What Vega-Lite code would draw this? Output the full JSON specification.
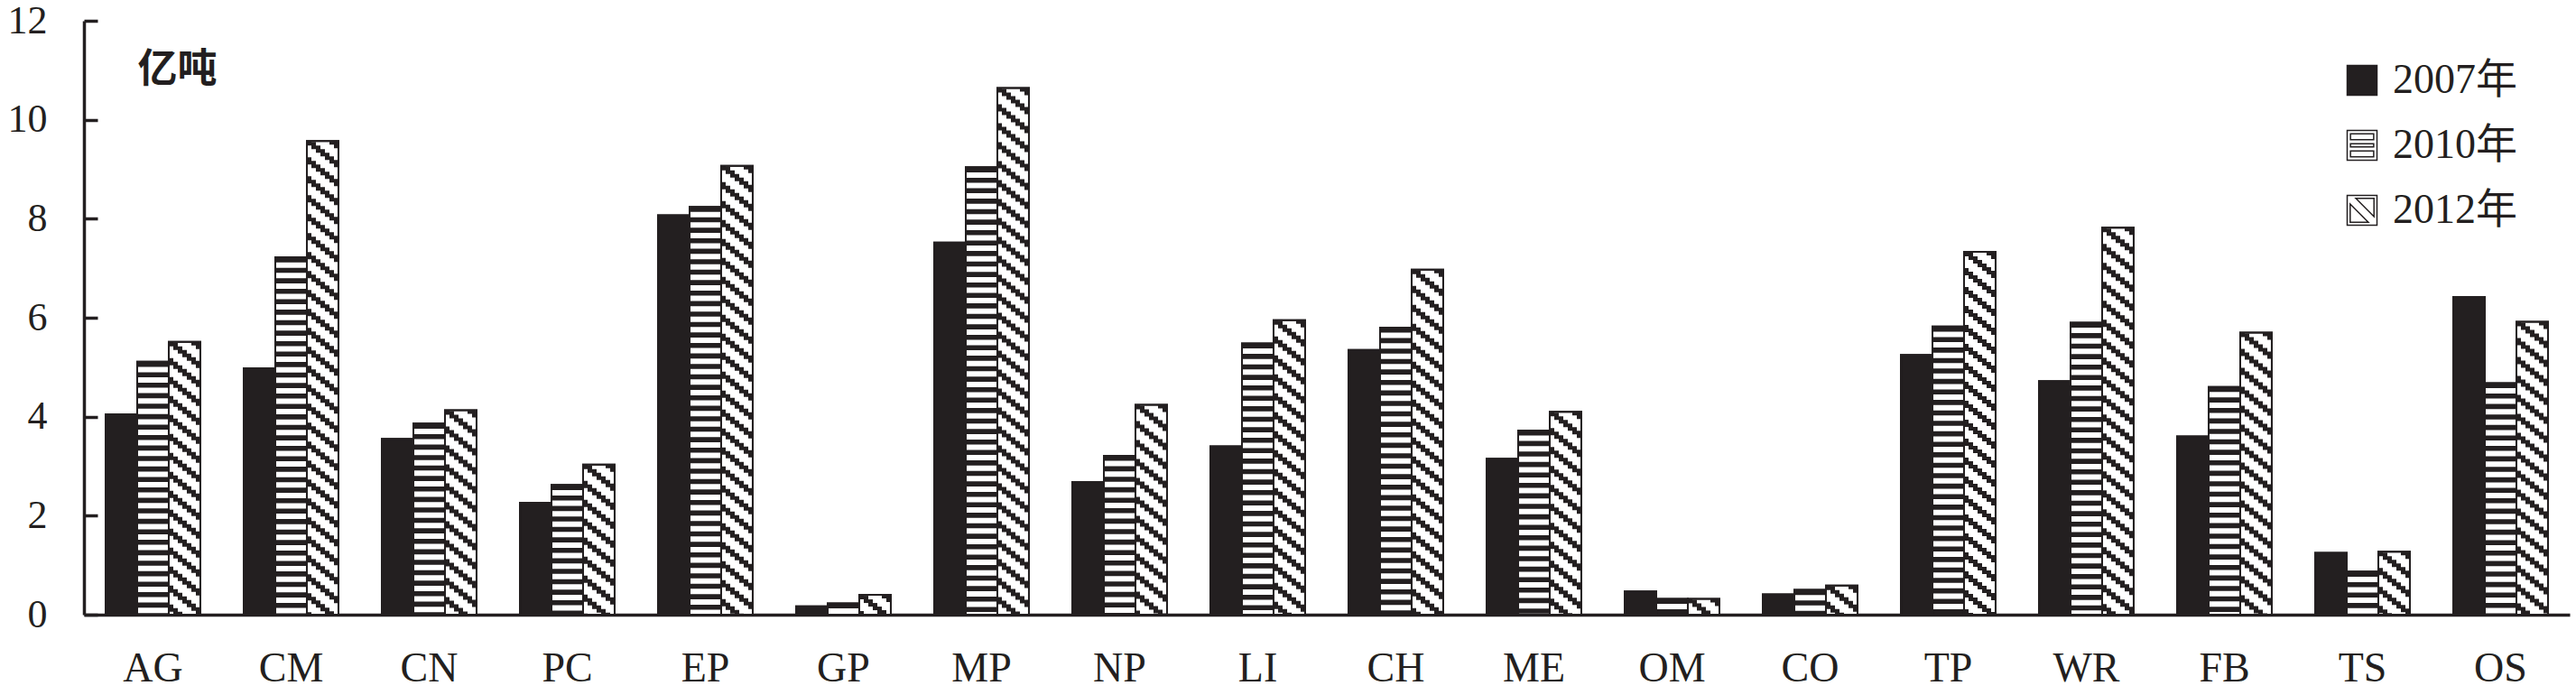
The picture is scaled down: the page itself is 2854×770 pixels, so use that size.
{
  "$schema": "https://vega.github.io/schema/vega-lite/v6.json",
  "autosize": {"type": "none"},
  "padding": {"left": 93, "top": 23, "right": 7, "bottom": 89},
  "width": 2754,
  "height": 658,
  "background": "white",
  "config": {"view": {"stroke": null}, "legend": {"labelFont": "Liberation Serif, Noto Sans CJK SC", "labelFontSize": 46, "labelColor": "#231f20"}},
  "data": {"values": [
    {"sector": "AG", "year": "2007年", "value": 4.05}, {"sector": "AG", "year": "2010年", "value": 5.11}, {"sector": "AG", "year": "2012年", "value": 5.51},
    {"sector": "CM", "year": "2007年", "value": 4.98}, {"sector": "CM", "year": "2010年", "value": 7.22}, {"sector": "CM", "year": "2012年", "value": 9.57},
    {"sector": "CN", "year": "2007年", "value": 3.55}, {"sector": "CN", "year": "2010年", "value": 3.86}, {"sector": "CN", "year": "2012年", "value": 4.13},
    {"sector": "PC", "year": "2007年", "value": 2.26}, {"sector": "PC", "year": "2010年", "value": 2.62}, {"sector": "PC", "year": "2012年", "value": 3.03},
    {"sector": "EP", "year": "2007年", "value": 8.07}, {"sector": "EP", "year": "2010年", "value": 8.24}, {"sector": "EP", "year": "2012年", "value": 9.07},
    {"sector": "GP", "year": "2007年", "value": 0.17}, {"sector": "GP", "year": "2010年", "value": 0.23}, {"sector": "GP", "year": "2012年", "value": 0.40},
    {"sector": "MP", "year": "2007年", "value": 7.52}, {"sector": "MP", "year": "2010年", "value": 9.04}, {"sector": "MP", "year": "2012年", "value": 10.64},
    {"sector": "NP", "year": "2007年", "value": 2.68}, {"sector": "NP", "year": "2010年", "value": 3.21}, {"sector": "NP", "year": "2012年", "value": 4.24},
    {"sector": "LI", "year": "2007年", "value": 3.40}, {"sector": "LI", "year": "2010年", "value": 5.48}, {"sector": "LI", "year": "2012年", "value": 5.95},
    {"sector": "CH", "year": "2007年", "value": 5.35}, {"sector": "CH", "year": "2010年", "value": 5.80}, {"sector": "CH", "year": "2012年", "value": 6.97},
    {"sector": "ME", "year": "2007年", "value": 3.15}, {"sector": "ME", "year": "2010年", "value": 3.72}, {"sector": "ME", "year": "2012年", "value": 4.10},
    {"sector": "OM", "year": "2007年", "value": 0.47}, {"sector": "OM", "year": "2010年", "value": 0.32}, {"sector": "OM", "year": "2012年", "value": 0.32},
    {"sector": "CO", "year": "2007年", "value": 0.41}, {"sector": "CO", "year": "2010年", "value": 0.50}, {"sector": "CO", "year": "2012年", "value": 0.59},
    {"sector": "TP", "year": "2007年", "value": 5.25}, {"sector": "TP", "year": "2010年", "value": 5.82}, {"sector": "TP", "year": "2012年", "value": 7.33},
    {"sector": "WR", "year": "2007年", "value": 4.72}, {"sector": "WR", "year": "2010年", "value": 5.90}, {"sector": "WR", "year": "2012年", "value": 7.82},
    {"sector": "FB", "year": "2007年", "value": 3.60}, {"sector": "FB", "year": "2010年", "value": 4.60}, {"sector": "FB", "year": "2012年", "value": 5.70},
    {"sector": "TS", "year": "2007年", "value": 1.25}, {"sector": "TS", "year": "2010年", "value": 0.87}, {"sector": "TS", "year": "2012年", "value": 1.27},
    {"sector": "OS", "year": "2007年", "value": 6.42}, {"sector": "OS", "year": "2010年", "value": 4.68}, {"sector": "OS", "year": "2012年", "value": 5.92}
  ]},
  "layer": [
    {
      "mark": {"type": "bar", "stroke": "#231f20", "strokeWidth": 2},
      "encoding": {
        "x": {"field": "sector", "type": "nominal", "sort": null,
              "scale": {"type": "band", "domain": ["AG","CM","CN","PC","EP","GP","MP","NP","LI","CH","ME","OM","CO","TP","WR","FB","TS","OS"], "paddingInner": 0.314, "paddingOuter": 0.157},
              "axis": {"title": null, "ticks": false, "labelAngle": 0, "labelFont": "Liberation Serif", "labelFontSize": 46, "labelColor": "#231f20", "labelPadding": 37, "domainColor": "#231f20", "domainWidth": 3.5, "grid": false}},
        "xOffset": {"field": "year", "type": "nominal", "sort": ["2007年","2010年","2012年"], "scale": {"paddingInner": 0, "paddingOuter": 0}},
        "y": {"field": "value", "type": "quantitative",
              "scale": {"domain": [0, 12], "nice": false},
              "axis": {"values": [0,2,4,6,8,10,12], "format": "d", "grid": false, "tickSize": -15, "tickWidth": 3.5, "tickColor": "#231f20", "domainColor": "#231f20", "domainWidth": 3.5,
                       "labelFont": "Liberation Serif", "labelFontSize": 44, "labelColor": "#231f20", "labelPadding": 56,
                       "title": "亿吨", "titleAngle": 0, "titleX": 103, "titleY": 54, "titleAlign": "center", "titleBaseline": "middle",
                       "titleFont": "Noto Sans CJK SC", "titleFontSize": 44, "titleFontWeight": "bold", "titleColor": "#231f20"}},
        "fill": {"field": "year", "type": "nominal",
                 "scale": {"domain": ["2007年","2010年","2012年"], "range": ["#231f20", "#ffffff", "#ffffff"]},
                 "legend": {"orient": "none", "legendX": 2501, "legendY": 43, "title": null, "symbolType": "square", "symbolSize": 1089,
                            "symbolStrokeColor": "#231f20", "symbolStrokeWidth": 2, "labelFont": "Liberation Serif, Noto Sans CJK SC", "labelFontSize": 46,
                            "labelColor": "#231f20", "labelOffset": 11, "rowPadding": 26, "padding": 0,
                            "encode": {
                              "symbols": {"update": {
                                "stroke": {"value": "#231f20"}, "strokeWidth": {"value": 1.5},
                                "fill": {"value": "#231f20"},
                                "shape": {"signal": "datum.value === '2010年' ? 'M-1,-1L1,-1L1,1L-1,1Z M-0.78,-0.78L-0.78,-0.38L0.78,-0.38L0.78,-0.78Z M-0.78,-0.1L-0.78,0.1L0.78,0.1L0.78,-0.1Z M-0.78,0.38L-0.78,0.78L0.78,0.78L0.78,0.38Z' : datum.value === '2012年' ? 'M-1,-1L1,-1L1,1L-1,1Z M-0.42,-0.8L0.8,0.42L0.8,-0.8Z M-0.8,-0.42L-0.8,0.8L0.42,0.8Z' : 'square'"}}}}}}
      }
    },
    {
      "transform": [{"filter": "datum.year === '2010年'"}],
      "mark": {"type": "rule", "strokeWidth": 34, "strokeDash": [5.6, 6], "strokeCap": "butt", "color": "#231f20"},
      "encoding": {
        "x": {"field": "sector", "type": "nominal", "sort": null},
        "y": {"field": "value", "type": "quantitative"},
        "y2": {"datum": 0}
      }
    },
    {
      "transform": [{"filter": "datum.year === '2012年'"}],
      "mark": {"type": "rule", "strokeWidth": 5, "strokeDash": [8, 13], "strokeDashOffset": 24, "strokeCap": "butt", "color": "#231f20", "xOffset": 20},
      "encoding": {"x": {"field": "sector", "type": "nominal", "sort": null}, "y": {"field": "value", "type": "quantitative"}, "y2": {"datum": 0}}
    },
    {
      "transform": [{"filter": "datum.year === '2012年'"}],
      "mark": {"type": "rule", "strokeWidth": 5, "strokeDash": [8, 13], "strokeDashOffset": 20, "strokeCap": "butt", "color": "#231f20", "xOffset": 25},
      "encoding": {"x": {"field": "sector", "type": "nominal", "sort": null}, "y": {"field": "value", "type": "quantitative"}, "y2": {"datum": 0}}
    },
    {
      "transform": [{"filter": "datum.year === '2012年'"}],
      "mark": {"type": "rule", "strokeWidth": 5, "strokeDash": [8, 13], "strokeDashOffset": 16, "strokeCap": "butt", "color": "#231f20", "xOffset": 30},
      "encoding": {"x": {"field": "sector", "type": "nominal", "sort": null}, "y": {"field": "value", "type": "quantitative"}, "y2": {"datum": 0}}
    },
    {
      "transform": [{"filter": "datum.year === '2012年'"}],
      "mark": {"type": "rule", "strokeWidth": 5, "strokeDash": [8, 13], "strokeDashOffset": 12, "strokeCap": "butt", "color": "#231f20", "xOffset": 35},
      "encoding": {"x": {"field": "sector", "type": "nominal", "sort": null}, "y": {"field": "value", "type": "quantitative"}, "y2": {"datum": 0}}
    },
    {
      "transform": [{"filter": "datum.year === '2012年'"}],
      "mark": {"type": "rule", "strokeWidth": 5, "strokeDash": [8, 13], "strokeDashOffset": 8, "strokeCap": "butt", "color": "#231f20", "xOffset": 40},
      "encoding": {"x": {"field": "sector", "type": "nominal", "sort": null}, "y": {"field": "value", "type": "quantitative"}, "y2": {"datum": 0}}
    },
    {
      "transform": [{"filter": "datum.year === '2012年'"}],
      "mark": {"type": "rule", "strokeWidth": 5, "strokeDash": [8, 13], "strokeDashOffset": 4, "strokeCap": "butt", "color": "#231f20", "xOffset": 45},
      "encoding": {"x": {"field": "sector", "type": "nominal", "sort": null}, "y": {"field": "value", "type": "quantitative"}, "y2": {"datum": 0}}
    },
    {
      "transform": [{"filter": "datum.year === '2012年'"}],
      "mark": {"type": "rule", "strokeWidth": 5, "strokeDash": [8, 13], "strokeDashOffset": 0, "strokeCap": "butt", "color": "#231f20", "xOffset": 50},
      "encoding": {"x": {"field": "sector", "type": "nominal", "sort": null}, "y": {"field": "value", "type": "quantitative"}, "y2": {"datum": 0}}
    },
    {
      "mark": {"type": "bar", "fillOpacity": 0, "stroke": "#231f20", "strokeWidth": 2},
      "encoding": {
        "x": {"field": "sector", "type": "nominal", "sort": null},
        "xOffset": {"field": "year", "type": "nominal", "sort": ["2007年","2010年","2012年"]},
        "y": {"field": "value", "type": "quantitative"}
      }
    }
  ]
}
